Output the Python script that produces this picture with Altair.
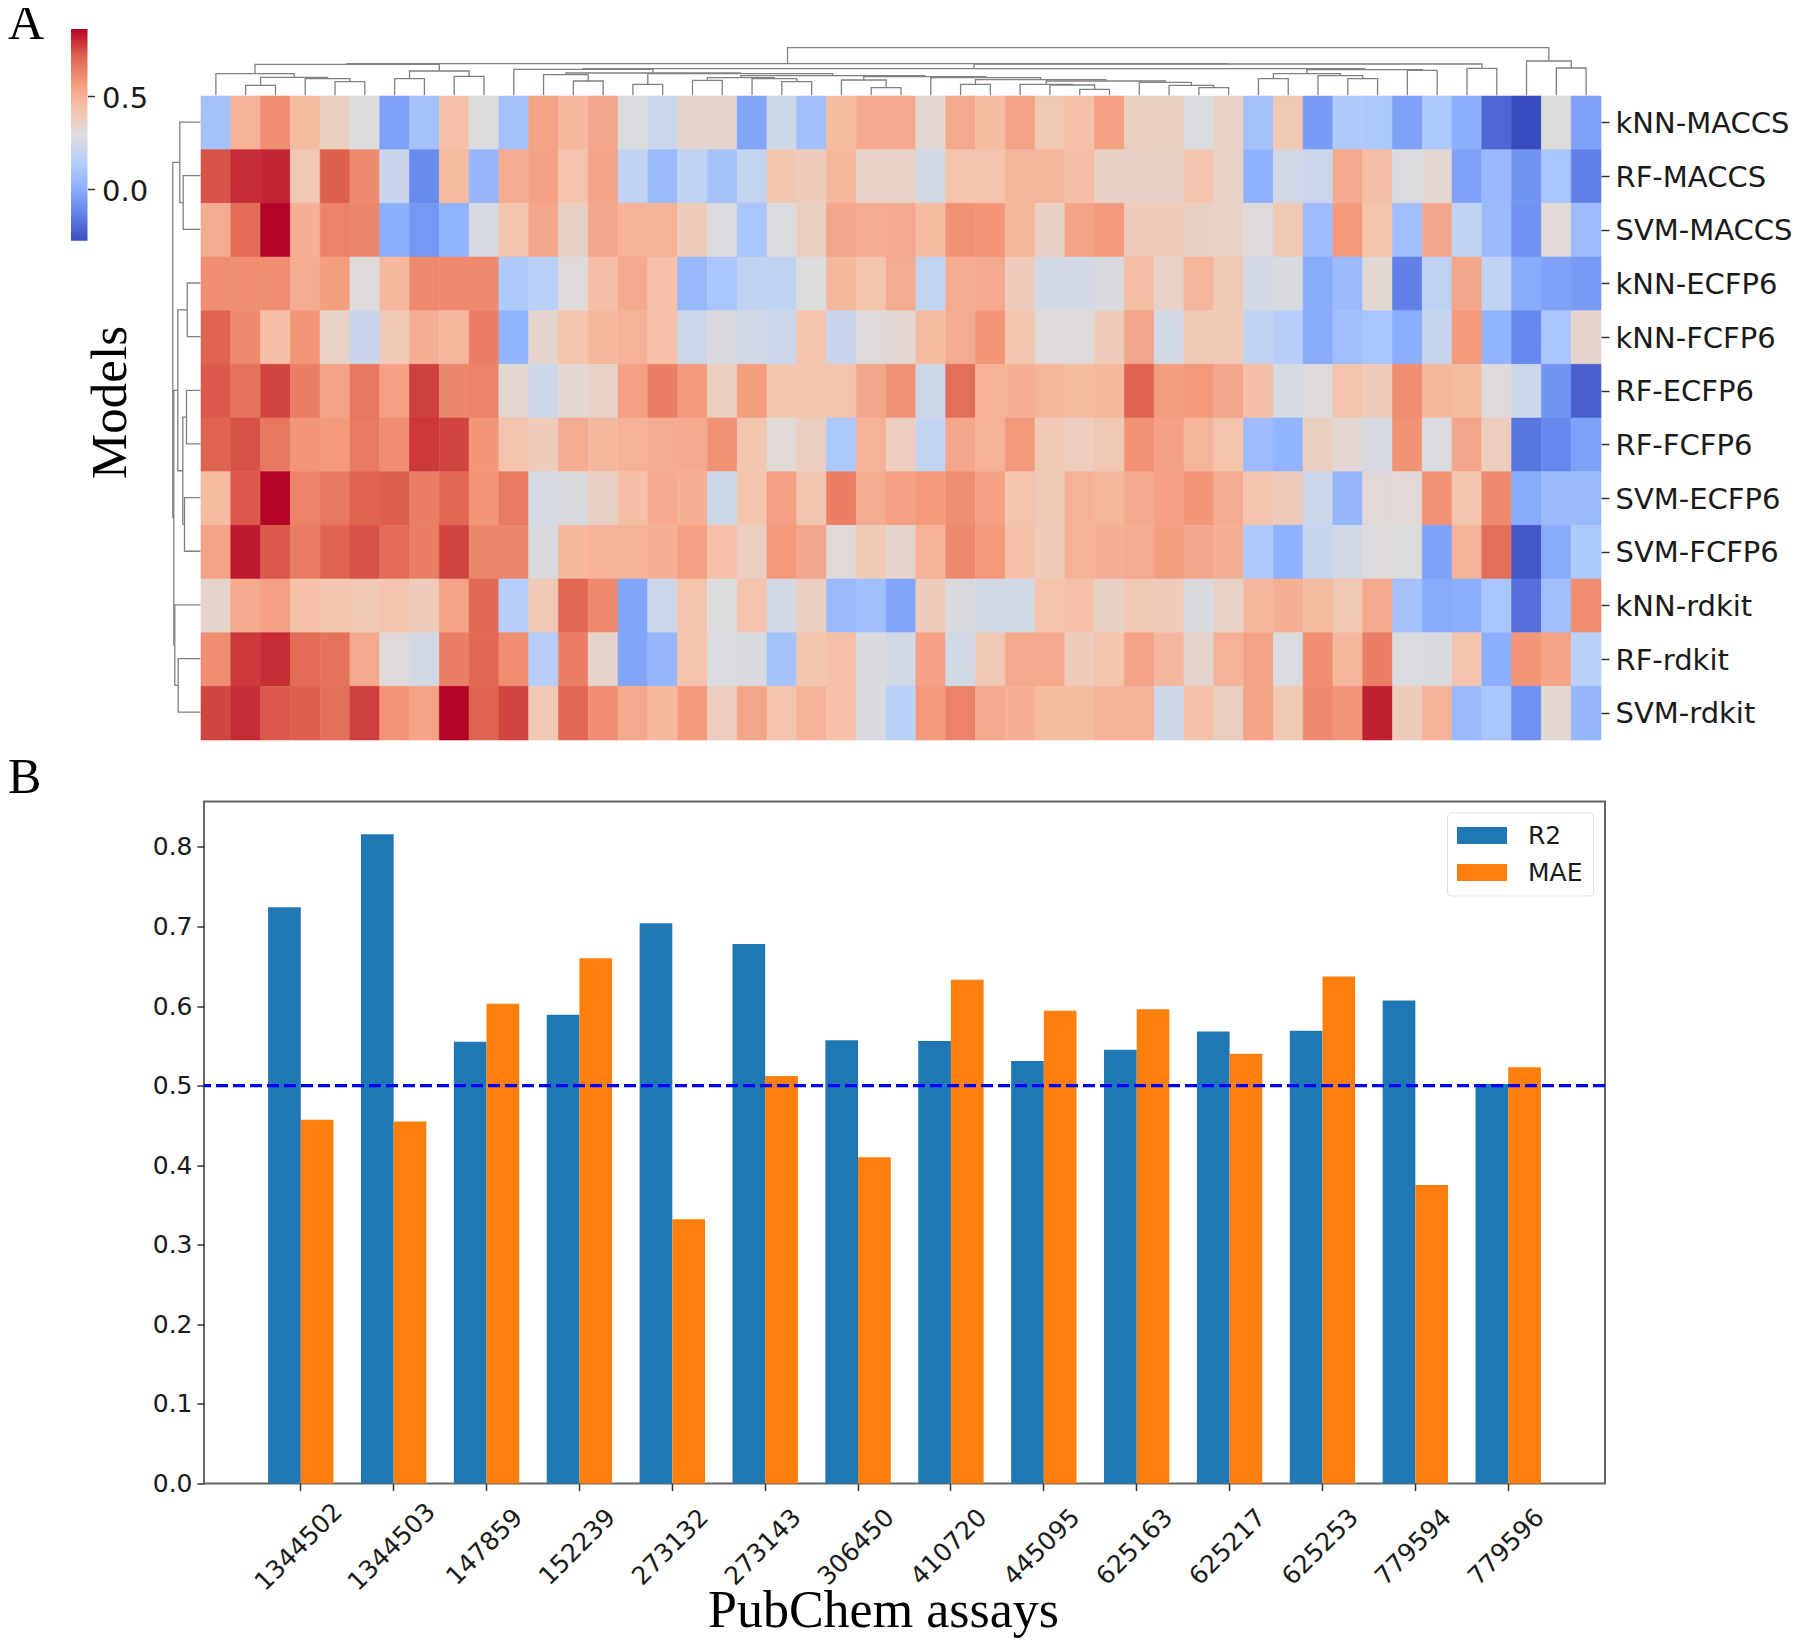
import altair as alt
import pandas as pd

# ---------- Panel A: heatmap ----------
models = ["kNN-MACCS", "RF-MACCS", "SVM-MACCS", "kNN-ECFP6", "kNN-FCFP6", "RF-ECFP6",
          "RF-FCFP6", "SVM-ECFP6", "SVM-FCFP6", "kNN-rdkit", "RF-rdkit", "SVM-rdkit"]

r_knn_maccs = [.08,.49,.60,.46,.37,.29,-.04,.08,.44,.29,.08,.54,.47,.53,.28,.22,.34,.34,-.03,.23,.07,.46,.52,.52,.32,.52,.46,.54,.41,.44,.55,.37,.37,.28,.35,.08,.41,-.06,.12,.11,-.04,.11,0.0,-.21,-.28,.29,-.04]
r_rf_maccs = [.74,.80,.81,.41,.72,.61,.21,-.11,.46,.03,.51,.55,.43,.54,.18,.05,.17,.08,.19,.42,.39,.47,.35,.35,.25,.43,.43,.48,.48,.45,.36,.36,.36,.43,.35,.01,.24,.22,.52,.45,.28,.32,-.04,.04,-.08,.10,-.14]
r_svm_maccs = [.51,.69,.86,.50,.63,.62,0.0,-.07,.02,.26,.43,.53,.36,.53,.49,.49,.39,.28,.10,.28,.37,.53,.51,.52,.46,.59,.58,.48,.36,.54,.57,.39,.39,.36,.35,.30,.41,.06,.57,.43,.07,.53,.18,.05,-.09,.31,.06]
r_knn_ecfp = [.60,.60,.60,.51,.56,.30,.47,.61,.61,.61,.12,.15,.30,.45,.52,.44,.04,.10,.18,.18,.29,.47,.43,.51,.19,.51,.52,.39,.25,.25,.27,.45,.35,.48,.41,.25,.27,-.01,.05,.32,-.14,.17,.53,.18,-.01,-.04,-.06]
r_knn_fcfp = [.71,.61,.45,.58,.35,.21,.40,.50,.47,.64,.02,.34,.43,.47,.49,.44,.22,.27,.24,.22,.43,.21,.30,.32,.46,.51,.58,.42,.30,.30,.39,.53,.25,.40,.40,.18,.14,-.01,.07,.10,0.0,.20,.57,.02,-.12,.10,.34]
r_rf_ecfp = [.73,.67,.76,.64,.54,.66,.55,.77,.62,.63,.32,.23,.32,.35,.55,.64,.57,.37,.56,.42,.42,.43,.53,.59,.23,.68,.49,.50,.48,.46,.47,.71,.56,.57,.53,.45,.26,.30,.43,.39,.60,.47,.46,.30,.22,-.08,-.23]
r_rf_fcfp = [.71,.74,.66,.58,.57,.65,.60,.78,.76,.58,.43,.39,.51,.47,.49,.51,.52,.59,.42,.31,.37,.11,.49,.38,.19,.53,.49,.57,.40,.38,.41,.59,.55,.48,.43,.06,.02,.37,.32,.26,.59,.28,.53,.38,-.17,-.12,-.04]
r_svm_ecfp = [.46,.73,.86,.63,.66,.71,.72,.64,.70,.58,.65,.26,.27,.36,.45,.52,.50,.23,.43,.55,.42,.64,.51,.55,.57,.60,.55,.43,.40,.49,.48,.52,.55,.58,.51,.43,.39,.22,.03,.31,.31,.59,.42,.61,-.01,.05,.05]
r_svm_fcfp = [.54,.83,.73,.65,.71,.74,.69,.64,.76,.62,.62,.27,.47,.49,.49,.50,.55,.44,.37,.57,.53,.31,.40,.34,.49,.61,.57,.44,.39,.49,.50,.51,.56,.53,.50,.12,.01,.20,.24,.30,.29,-.04,.49,.68,-.25,-.01,.11]
r_knn_rdkit = [.34,.52,.55,.44,.42,.41,.43,.39,.54,.70,.14,.40,.70,.61,-.03,.22,.43,.29,.43,.25,.37,.05,.07,-.03,.39,.27,.25,.25,.43,.44,.36,.41,.39,.27,.35,.47,.50,.46,.41,.52,.08,-.01,0.0,.10,-.19,.07,.60]
r_rf_rdkit = [.60,.78,.80,.69,.67,.52,.30,.25,.64,.70,.60,.14,.64,.34,-.03,.03,.43,.28,.27,.09,.42,.44,.27,.24,.55,.24,.41,.52,.52,.39,.43,.54,.47,.34,.49,.54,.28,.60,.47,.64,.28,.27,.43,0.0,.58,.54,.15]
r_svm_rdkit = [.76,.80,.73,.72,.68,.77,.58,.54,.86,.71,.76,.41,.70,.60,.52,.47,.57,.38,.53,.43,.49,.44,.27,.15,.57,.63,.52,.50,.46,.46,.49,.49,.23,.44,.37,.54,.41,.61,.58,.82,.39,.49,.05,.10,-.09,.32,.03]

rows = [r_knn_maccs, r_rf_maccs, r_svm_maccs, r_knn_ecfp, r_knn_fcfp, r_rf_ecfp,
        r_rf_fcfp, r_svm_ecfp, r_svm_fcfp, r_knn_rdkit, r_rf_rdkit, r_svm_rdkit]

coolwarm = ["#3b4cc0", "#6282ea", "#8db0fe", "#b8d0f9", "#dddcdc",
            "#f5c4ac", "#f4987a", "#de614d", "#b40426"]
cbar_ticks = [0.0, 0.5]
cbar_domain = [-0.28, 0.86]

# dendrogram merges: (left child, right child, height); ints are leaves
col_merges = [
    ("n1",1,2,10),("n2",4,5,13.7),("n3",3,"n2",16.7),("n4","n1","n3",18),("n5",0,"n4",21.7),
    ("n6",6,7,16.7),("n7",8,9,19),("n8","n6","n7",24.3),("n9","n5","n8",31),
    ("e",12,13,14.3),("l",11,"e",20.7),("cl",14,15,11),("p",16,17,15),("q1",19,20,13.7),
    ("q",18,"q1",16.7),("o","p","q",17.7),("t",22,23,7.7),("s",21,"t",15.3),("u1",25,26,11),
    ("y",29,30,6),("x",28,"y",10.3),("w",27,"x",11),("aa",33,34,7.7),("ab",32,"aa",10),
    ("z",31,"ab",13),("v","w","z",14.3),("u","u1","v",15.7),("r2",24,"u",17.7),("rr","s","r2",18.7),
    ("nn","o","rr",19.7),("m","cl","nn",21.7),("ee","l","m",22.3),("d",10,"ee",26),
    ("g1",35,36,16.7),("g2",38,39,16.7),("h",37,"g2",19.7),("g","g1","h",21.7),("f1",40,41,25),
    ("f","g","f1",25.7),("c","d","f",26.7),("k1",42,43,27),("b","c","k1",31.3),("a","n9","b",31.7),
    ("r1",45,46,27.3),("r3",44,"r1",34.3),("root","a","r3",47.7),
]
row_merges = [
    ("a",1,2,17.3),("b",0,"a",20.7),("c",3,4,13.3),("d",5,6,14),("e",7,8,16),("f","d","e",17.7),
    ("g","c","f",22.7),("h",10,11,22.3),("i",9,"h",25.7),("j","g","i",26.7),("root","b","j",27.7),
]

# ---------- Panel B: bars ----------
assays = ["1344502","1344503","147859","152239","273132","273143","306450",
          "410720","445095","625163","625217","625253","779594","779596"]
r2 = [.724,.816,.555,.589,.704,.678,.557,.556,.531,.545,.568,.569,.607,.502]
mae = [.457,.455,.603,.660,.332,.512,.410,.633,.594,.596,.540,.637,.375,.523]
threshold = 0.5
bar_ticks = [0.0,0.1,0.2,0.3,0.4,0.5,0.6,0.7,0.8]

SERIF = "Liberation Serif"
SANS = "DejaVu Sans"


def dendro_table(merges):
    pos, hgt, out = {}, {}, []
    def p(k): return k + 0.5 if isinstance(k, int) else pos[k]
    def h(k): return 0 if isinstance(k, int) else hgt[k]
    for name, l, r, t in merges:
        pts = [(p(l), h(l)), (p(l), t), (p(r), t), (p(r), h(r))]
        for i, (a, b) in enumerate(pts):
            out.append({"link": name, "i": i, "pos": a, "dist": b})
        pos[name] = (p(l) + p(r)) / 2
        hgt[name] = t
    return pd.DataFrame(out)


LINE = dict(color="#808080", strokeWidth=1.3)
heat_df = pd.DataFrame([{"model": m, "col": c, "v": v}
                        for m, row in zip(models, rows) for c, v in enumerate(row)])
heat_scale = alt.Scale(domain=cbar_domain, range=coolwarm, nice=False, interpolate="rgb")

heat = alt.Chart(heat_df).mark_rect(strokeWidth=0.6).encode(
    x=alt.X("col:O", axis=None),
    y=alt.Y("model:N", sort=models, title=None, axis=alt.Axis(
        orient="right", labelFont=SANS, labelFontSize=29, labelColor="#1a1a1a", tickSize=8,
        tickColor="#333333", tickWidth=1.5, domain=False, labelPadding=6, labelLimit=400, labelOffset=1)),
    color=alt.Color("v:Q", legend=None, scale=heat_scale),
    stroke=alt.Stroke("v:Q", legend=None, scale=heat_scale),
).properties(width=1400, height=644)

top_dendro = alt.Chart(dendro_table(col_merges)).mark_line(**LINE).encode(
    x=alt.X("pos:Q", axis=None, scale=alt.Scale(domain=[0, 47], nice=False, zero=False)),
    y=alt.Y("dist:Q", axis=None, scale=alt.Scale(domain=[0, 66.3], nice=False)),
    detail="link:N", order="i:Q",
).properties(width=1400, height=66.3)

left_dendro = alt.Chart(dendro_table(row_merges)).mark_line(**LINE).encode(
    x=alt.X("dist:Q", axis=None, scale=alt.Scale(domain=[112.5, 0], nice=False, zero=False)),
    y=alt.Y("pos:Q", scale=alt.Scale(domain=[12, -1.235], nice=False, zero=False), axis=alt.Axis(
        title="Models", titleFont=SERIF, titleFontSize=51, titleFontWeight="normal", titleColor="black",
        titleX=37, titleY=373, titleAngle=-90, titleAlign="center", titleBaseline="alphabetic",
        labels=False, ticks=False, domain=False, grid=False)),
    detail="link:N", order="i:Q",
).properties(width=112.5, height=710)

cbar_df = pd.DataFrame({"low": [cbar_domain[0]], "high": [cbar_domain[1]]})
n = len(coolwarm) - 1
grad = alt.Gradient(gradient="linear", x1=0, x2=0, y1=1, y2=0,
                    stops=[alt.GradientStop(offset=i / n, color=c) for i, c in enumerate(coolwarm)])
cbar = alt.Chart(cbar_df).mark_rect(color=grad).encode(
    x=alt.value(0), x2=alt.value(16.5),
    y=alt.Y("low:Q", title=None, scale=alt.Scale(domain=cbar_domain, nice=False, zero=False), axis=alt.Axis(
        orient="right", values=cbar_ticks, format=".1f", labelFont=SANS, labelFontSize=29,
        labelColor="#1a1a1a", tickSize=7, tickColor="#333333", tickWidth=1.5, domain=False,
        grid=False, labelPadding=7, labelOffset=3)),
    y2="high:Q",
).properties(width=16.5, height=211.7)


def panel_label(txt, w, h, base):
    return alt.Chart(pd.DataFrame({"t": [txt]})).mark_text(
        font=SERIF, fontSize=50, align="left", baseline="alphabetic", color="black"
    ).encode(text="t:N", x=alt.value(0), y=alt.value(base)).properties(width=w, height=h)


bar_df = pd.DataFrame(
    [{"assay": a, "metric": "R2", "v": v} for a, v in zip(assays, r2)]
    + [{"assay": a, "metric": "MAE", "v": v} for a, v in zip(assays, mae)])

bars = alt.Chart(bar_df).mark_bar().encode(
    x=alt.X("assay:N", sort=assays, scale=alt.Scale(paddingInner=0.296, paddingOuter=0.69), axis=alt.Axis(
        title="PubChem assays", titleFont=SERIF, titleFontSize=52, titleFontWeight="normal", titleColor="black",
        titleX=679, titleY=143, titleAlign="center", titleBaseline="alphabetic",
        labelAngle=-45, labelAlign="center", labelBaseline="middle", labelPadding=56, labelOffset=-2,
        labelFont=SANS, labelFontSize=25, labelColor="#1a1a1a", labelOverlap=False, tickSize=7,
        tickColor="#333333", tickWidth=1.5, domain=False, grid=False)),
    xOffset=alt.XOffset("metric:N", sort=["R2", "MAE"]),
    y=alt.Y("v:Q", title=None, scale=alt.Scale(domain=[0, 0.857], nice=False), axis=alt.Axis(
        values=bar_ticks, format=".1f", labelFont=SANS, labelFontSize=25, labelColor="#1a1a1a", tickSize=7,
        tickColor="#333333", tickWidth=1.5, domain=False, grid=False, labelPadding=5)),
    color=alt.Color("metric:N", scale=alt.Scale(domain=["R2", "MAE"], range=["#1f77b4", "#ff7f0e"]),
                    legend=alt.Legend(
                        title=None, orient="none", legendX=1439, legendY=11, symbolType="M-1,-0.34H1V0.34H-1Z",
                        symbolSize=2500, symbolStrokeWidth=0, clipHeight=26, rowPadding=11, padding=10,
                        labelFont=SANS, labelFontSize=25, labelColor="#1a1a1a", labelOffset=21,
                        strokeColor="#dddddd", cornerRadius=4, fillColor="white")),
)
line = alt.Chart(pd.DataFrame({"y": [threshold]})).mark_rule(
    color="#0000ff", strokeDash=[12, 5], strokeWidth=3.2).encode(y="y:Q")
bar_panel = alt.layer(bars, line).properties(
    width=1401, height=682, view=alt.ViewBackground(stroke="#666666", strokeWidth=2))

right_col = alt.vconcat(top_dendro, heat, spacing=0, bounds="flush")
row1 = alt.hconcat(panel_label("A", 63, 211.7, 9.8), cbar, left_dendro, right_col, spacing=0, bounds="flush")
row2 = alt.hconcat(panel_label("B", 196, 682, -9), bar_panel, spacing=0, bounds="flush")

chart = alt.vconcat(row1, row2, spacing=11.5).properties(
    padding={"left": 0, "top": -10, "right": 0, "bottom": 0}
).configure_view(stroke=None).resolve_scale(color="independent")

chart.save("out.html", embed_options={"renderer": "svg", "actions": False})
